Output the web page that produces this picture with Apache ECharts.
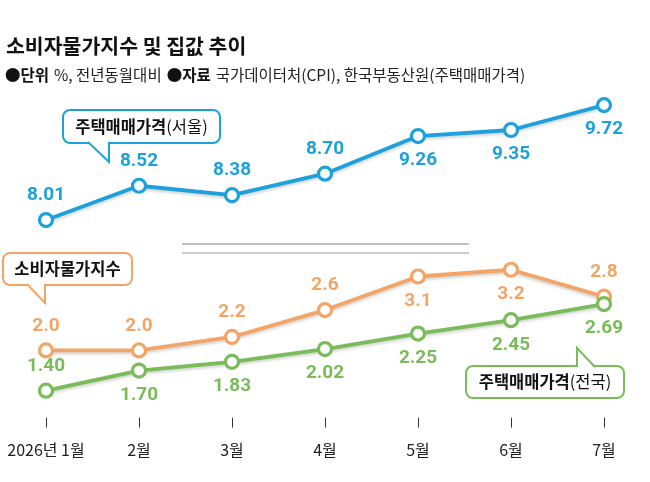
<!DOCTYPE html>
<html>
<head>
<meta charset="utf-8">
<script src="https://cdn.jsdelivr.net/npm/echarts@6/dist/echarts.min.js"></script>
<style>
  html, body { margin: 0; padding: 0; background: #fff; }
  #main { width: 650px; height: 482px; }
</style>
</head>
<body>
<div id="main"></div>
<script>
// months on the x axis
const months = ['2026년 1월', '2월', '3월', '4월', '5월', '6월', '7월'];
// % change year on year
const seoulHouse = [8.01, 8.52, 8.38, 8.70, 9.26, 9.35, 9.72];
const cpi = [2.0, 2.0, 2.2, 2.6, 3.1, 3.2, 2.8];
const nationHouse = [1.40, 1.70, 1.83, 2.02, 2.25, 2.45, 2.69];
// label decimals per series
const seoulDigits = 2, cpiDigits = 1, nationDigits = 2;
// where each value label sits
const seoulPos = ['top', 'top', 'top', 'top', 'bottom', 'bottom', 'bottom'];
const cpiPos = ['top', 'top', 'top', 'top', 'bottom', 'bottom', 'top'];
const nationPos = ['top', 'bottom', 'bottom', 'bottom', 'bottom', 'bottom', 'bottom'];

const BLUE = '#1da1dc', ORANGE = '#f2a566', GREEN = '#79bc59';
const NUM_FONT = 'Roboto, "Noto Sans CJK KR", sans-serif';
const KR_FONT = '"Noto Sans CJK KR", sans-serif';

let chart = echarts.init(document.getElementById('main'));

function makeSeries(name, values, pos, digits, color, idx) {
    return {
        name: name,
        type: 'line',
        xAxisIndex: idx,
        yAxisIndex: idx,
        symbol: 'circle',
        symbolSize: 13,
        animation: false,
        lineStyle: {
            color: color,
            width: 3.8,
            shadowColor: 'rgba(0,0,0,0.18)',
            shadowBlur: 3,
            shadowOffsetY: 2
        },
        itemStyle: {
            color: '#fff',
            borderColor: color,
            borderWidth: 3.2
        },
        data: values.map((v, i) => ({
            value: v,
            label: {position: pos[i]}
        })),
        label: {
            show: true,
            distance: 7,
            color: color,
            fontFamily: NUM_FONT,
            fontWeight: 'bold',
            fontSize: 19,
            formatter: p => p.value.toFixed(digits)
        }
    };
}

// speech-bubble style callout
function callout(x, y, w, h, tail, color, bold, normal) {
    return {
        type: 'group',
        children: [{
            type: 'rect',
            shape: {x: x, y: y, width: w, height: h, r: 7},
            style: {fill: '#fff', stroke: color, lineWidth: 2}
        }, {
            type: 'polygon',
            shape: {points: tail},
            style: {fill: '#fff'}
        }, {
            type: 'polyline',
            shape: {points: tail},
            style: {stroke: color, lineWidth: 2, fill: null}
        }, {
            type: 'text',
            x: x + w / 2,
            y: y + h / 2,
            style: {
                text: '{b|' + bold + '}{r|' + normal + '}',
                align: 'center',
                verticalAlign: 'middle',
                rich: {
                    b: {fontFamily: KR_FONT, fontWeight: 'bold', fontSize: 16.5, fill: '#111'},
                    r: {fontFamily: KR_FONT, fontWeight: 'normal', fontSize: 16.5, fill: '#111'}
                }
            }
        }]
    };
}

let option = {
    backgroundColor: '#fff',
    title: [{
        text: '소비자물가지수 및 집값 추이',
        left: 1,
        top: 31,
        textStyle: {fontFamily: KR_FONT, fontWeight: 'bold', fontSize: 20.5, color: '#111'}
    }, {
        text: '{b|●단위} {r|%, 전년동월대비} {b|●자료} {r|국가데이터처(CPI), 한국부동산원(주택매매가격)}',
        left: 0,
        top: 61,
        textStyle: {
            fontWeight: 'normal',
            rich: {
                b: {fontFamily: KR_FONT, fontWeight: 'bold', fontSize: 15.5, color: '#111'},
                r: {fontFamily: KR_FONT, fontWeight: 'normal', fontSize: 15.5, color: '#222'}
            }
        }
    }],
    grid: [
        {left: 46, right: 46, top: 86.3, height: 168},
        {left: 46, right: 46, top: 249.6, height: 168}
    ],
    xAxis: [{
        gridIndex: 0,
        type: 'category',
        boundaryGap: false,
        data: months,
        show: false
    }, {
        gridIndex: 1,
        type: 'category',
        boundaryGap: false,
        data: months,
        axisLine: {show: false},
        axisTick: {show: true, length: 10, lineStyle: {color: '#333', width: 1}},
        axisLabel: {
            margin: 24,
            color: '#222',
            fontFamily: KR_FONT,
            fontSize: 16,
            interval: 0
        }
    }],
    yAxis: [{
        gridIndex: 0,
        type: 'value',
        min: 7.5,
        max: 10,
        show: false
    }, {
        gridIndex: 1,
        type: 'value',
        min: 1,
        max: 3.5,
        show: false
    }],
    series: [
        makeSeries('주택매매가격(서울)', seoulHouse, seoulPos, seoulDigits, BLUE, 0),
        makeSeries('소비자물가지수', cpi, cpiPos, cpiDigits, ORANGE, 1),
        makeSeries('주택매매가격(전국)', nationHouse, nationPos, nationDigits, GREEN, 1)
    ],
    graphic: [
        // axis break marks
        {type: 'line', shape: {x1: 182, y1: 244, x2: 469, y2: 244}, style: {stroke: '#aaa', lineWidth: 1.5}},
        {type: 'line', shape: {x1: 182, y1: 253, x2: 469, y2: 253}, style: {stroke: '#999', lineWidth: 1.2}},
        callout(63, 110, 157, 33, [[88, 142], [109, 162], [109, 142]], BLUE, '주택매매가격', '(서울)'),
        callout(3, 253, 129, 32, [[27, 284], [45, 303], [45, 284]], ORANGE, '소비자물가지수', ''),
        callout(466, 366, 158, 32, [[577, 367], [577, 348], [595, 367]], GREEN, '주택매매가격', '(전국)')
    ]
};

chart.setOption(option);
</script>
</body>
</html>
